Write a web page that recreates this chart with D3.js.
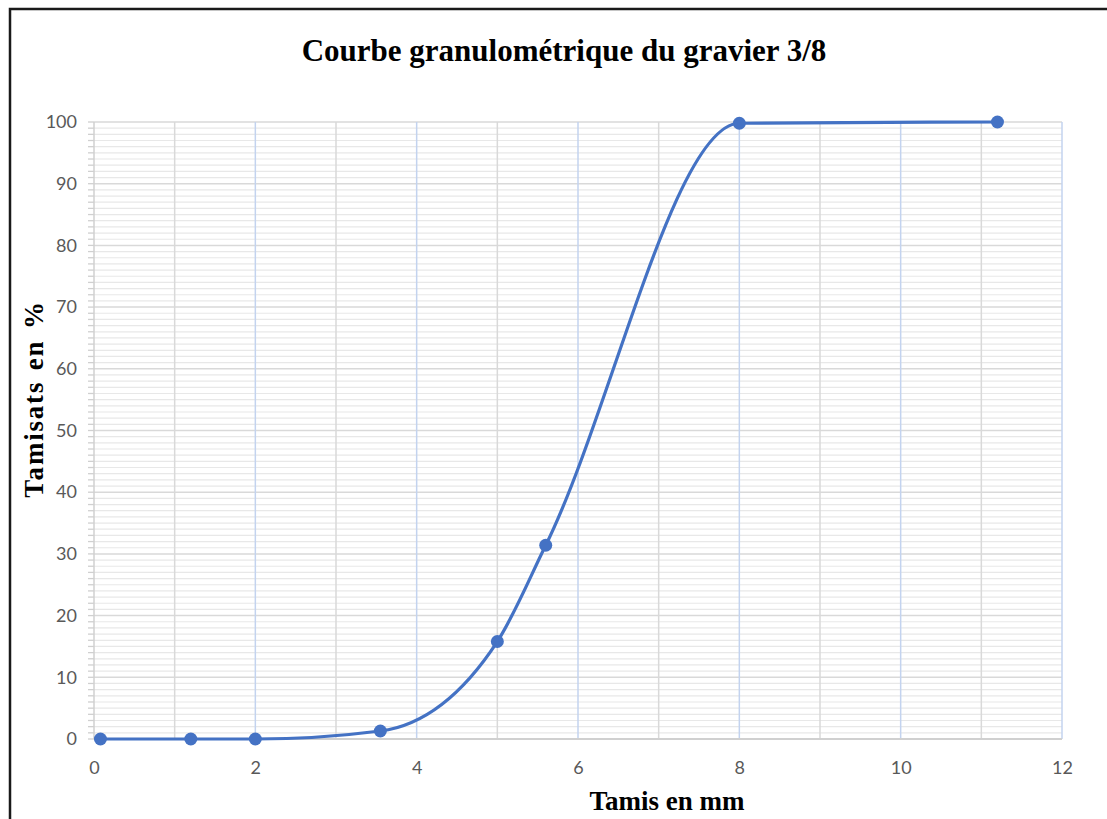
<!DOCTYPE html>
<html>
<head>
<meta charset="utf-8">
<script src="https://cdn.jsdelivr.net/npm/d3@7"></script>
<style>
  html, body { margin: 0; padding: 0; background: #fff; }
  svg { display: block; }
</style>
</head>
<body>
<svg id="chart" width="1107" height="819"></svg>
<script>
// Sieve openings (mm) and cumulative passing (%)
const sieveSizes = [0.08, 1.2, 2, 3.55, 5, 5.6, 8, 11.2];
const passingPct = [0, 0, 0, 1.3, 15.8, 31.4, 99.8, 100];

const xTicks = [0, 2, 4, 6, 8, 10, 12];
const yTicks = [0, 10, 20, 30, 40, 50, 60, 70, 80, 90, 100];

const titleText = "Courbe granulométrique du gravier 3/8";
const xLabelText = "Tamis en mm";
const yLabelText = "Tamisats en %";

const W = 1107, H = 819;
const margin = { left: 94, right: 1107 - 1062, top: 122, bottom: 819 - 739 };

const svg = d3.select("#chart");

// outer frame
svg.append("path")
  .attr("d", `M10,${H} V9 H${W}`)
  .attr("fill", "none")
  .attr("stroke", "#1a1a1a")
  .attr("stroke-width", 2.5);

const x = d3.scaleLinear().domain([0, 12]).range([margin.left, W - margin.right]);
const y = d3.scaleLinear().domain([0, 100]).range([H - margin.bottom, margin.top]);

const grid = svg.append("g");

// minor horizontal gridlines every 1 %
grid.selectAll("line.hminor")
  .data(d3.range(1, 100).filter(v => v % 10 !== 0))
  .join("line")
  .attr("x1", x(0)).attr("x2", x(12))
  .attr("y1", d => y(d)).attr("y2", d => y(d))
  .attr("stroke", "#e8e8e8")
  .attr("stroke-width", 1.2);

// major horizontal gridlines every 10 %
grid.selectAll("line.hmajor")
  .data(yTicks.filter(v => v > 0))
  .join("line")
  .attr("x1", x(0)).attr("x2", x(12))
  .attr("y1", d => y(d)).attr("y2", d => y(d))
  .attr("stroke", "#d9d9d9")
  .attr("stroke-width", 1.5);

// vertical gridlines: odd values gray, even values light blue
grid.selectAll("line.v")
  .data(d3.range(1, 13))
  .join("line")
  .attr("x1", d => x(d)).attr("x2", d => x(d))
  .attr("y1", y(0)).attr("y2", y(100))
  .attr("stroke", d => d % 2 === 0 ? "#c3d3ef" : "#d9d9d9")
  .attr("stroke-width", 1.5);

// y axis with minor ticks every 1 %
const yAxisG = svg.append("g").attr("transform", `translate(${x(0)},0)`);
yAxisG.append("line")
  .attr("x1", 0).attr("x2", 0)
  .attr("y1", y(0)).attr("y2", y(100))
  .attr("stroke", "#d0d0d0").attr("stroke-width", 1.5);
yAxisG.selectAll("line.tick")
  .data(d3.range(0, 101))
  .join("line")
  .attr("x1", -6).attr("x2", 0)
  .attr("y1", d => y(d)).attr("y2", d => y(d))
  .attr("stroke", "#d0d0d0").attr("stroke-width", 1.3);

const yAxis = d3.axisLeft(y).tickValues(yTicks).tickSize(0).tickPadding(17);
svg.append("g")
  .attr("transform", `translate(${x(0)},0)`)
  .call(yAxis)
  .call(g => g.select(".domain").remove())
  .call(g => g.selectAll("text")
    .attr("fill", "#595959")
    .attr("font-family", "Lato, 'Open Sans', sans-serif")
    .attr("font-size", 18));

// x axis
svg.append("line")
  .attr("x1", x(0)).attr("x2", x(12))
  .attr("y1", y(0)).attr("y2", y(0))
  .attr("stroke", "#d0d0d0").attr("stroke-width", 1.8);

const xAxis = d3.axisBottom(x).tickValues(xTicks).tickSize(0).tickPadding(22);
svg.append("g")
  .attr("transform", `translate(0,${y(0)})`)
  .call(xAxis)
  .call(g => g.select(".domain").remove())
  .call(g => g.selectAll("text")
    .attr("fill", "#595959")
    .attr("font-family", "Lato, 'Open Sans', sans-serif")
    .attr("font-size", 18));

// grading curve
const pts = sieveSizes.map((s, i) => [s, passingPct[i]]);
const line = d3.line()
  .x(d => x(d[0]))
  .y(d => y(d[1]))
  .curve(d3.curveMonotoneX);

svg.append("path")
  .datum(pts)
  .attr("d", line)
  .attr("fill", "none")
  .attr("stroke", "#4472c4")
  .attr("stroke-width", 3.2)
  .attr("stroke-linejoin", "round");

svg.selectAll("circle.pt")
  .data(pts)
  .join("circle")
  .attr("cx", d => x(d[0]))
  .attr("cy", d => y(d[1]))
  .attr("r", 6.5)
  .attr("fill", "#4472c4");

// title and axis labels
svg.append("text")
  .attr("x", 564).attr("y", 61)
  .attr("text-anchor", "middle")
  .attr("font-family", "'Liberation Serif', 'Times New Roman', serif")
  .attr("font-weight", "bold")
  .attr("font-size", 31)
  .attr("fill", "#000")
  .text(titleText);

svg.append("text")
  .attr("x", 667).attr("y", 810)
  .attr("text-anchor", "middle")
  .attr("font-family", "'Liberation Serif', 'Times New Roman', serif")
  .attr("font-weight", "bold")
  .attr("font-size", 27)
  .attr("fill", "#000")
  .text(xLabelText);

svg.append("text")
  .attr("transform", "translate(43,399) rotate(-90)")
  .attr("text-anchor", "middle")
  .attr("font-family", "'Liberation Serif', 'Times New Roman', serif")
  .attr("font-weight", "bold")
  .attr("font-size", 27)
  .attr("letter-spacing", 1.8)
  .attr("word-spacing", 2)
  .attr("fill", "#000")
  .text(yLabelText);
</script>
</body>
</html>
